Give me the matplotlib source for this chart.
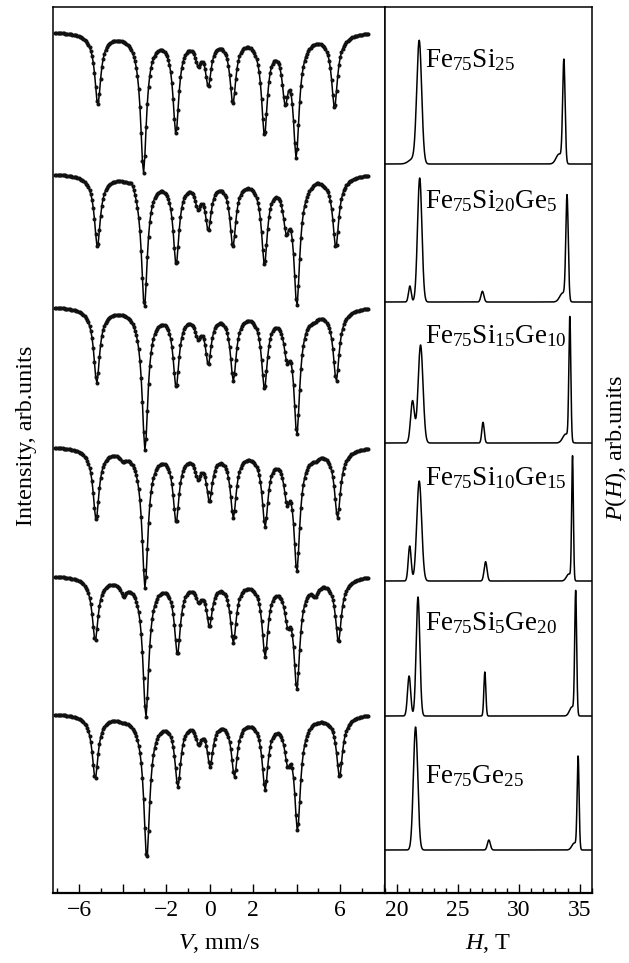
#!/usr/bin/env python3
""" Mossbauer spectra of Fe75Si(25-x)Gex and hyperfine field distributions. """

import numpy as np
import matplotlib.pyplot as plt

plt.rcParams['font.family'] = ['Liberation Serif', 'DejaVu Serif']
plt.rcParams['mathtext.fontset'] = 'custom'
plt.rcParams['mathtext.rm'] = 'Liberation Serif'
plt.rcParams['mathtext.it'] = 'Liberation Serif:italic'

labels = ["Fe$_{75}$Si$_{25}$", "Fe$_{75}$Si$_{20}$Ge$_{5}$",
          "Fe$_{75}$Si$_{15}$Ge$_{10}$", "Fe$_{75}$Si$_{10}$Ge$_{15}$",
          "Fe$_{75}$Si$_{5}$Ge$_{20}$", "Fe$_{75}$Ge$_{25}$"]

# spectra: dip positions (mm/s) and dip depths (arb. units)
dip_v = [
    [-5.14, -3.04, -1.55, -0.53, -0.06, 1.07, 2.52, 3.47, 3.98, 5.74],
    [-5.16, -3.58, -3.00, -1.54, -0.54, -0.06, 1.07, 2.52, 3.52, 4.01, 4.93, 5.80],
    [-5.19, -3.75, -2.97, -1.54, -0.54, -0.06, 1.09, 2.52, 3.55, 4.01, 4.80, 5.82],
    [-5.22, -3.98, -2.97, -1.54, -0.54, -0.01, 1.09, 2.55, 3.55, 4.01, 4.85, 5.88],
    [-5.26, -3.96, -2.93, -1.48, -0.51, -0.01, 1.09, 2.55, 3.58, 4.01, 4.85, 5.92],
    [-5.26, -4.04, -2.89, -1.46, -0.51, 0.02, 1.14, 2.55, 3.58, 4.04, 4.76, 5.97],
]
dip_depth = [
    [0.74, 1.42, 1.03, 0.36, 0.56, 0.73, 1.05, 0.75, 1.27, 0.77],
    [0.74, 0.11, 1.35, 0.92, 0.37, 0.58, 0.74, 0.92, 0.62, 1.33, 0.10, 0.75],
    [0.77, 0.12, 1.44, 0.82, 0.34, 0.59, 0.75, 0.83, 0.57, 1.29, 0.17, 0.75],
    [0.74, 0.16, 1.42, 0.77, 0.34, 0.56, 0.72, 0.81, 0.59, 1.26, 0.16, 0.72],
    [0.66, 0.22, 1.42, 0.80, 0.28, 0.52, 0.68, 0.82, 0.53, 1.15, 0.22, 0.67],
    [0.66, 0.10, 1.46, 0.74, 0.32, 0.54, 0.64, 0.77, 0.54, 1.18, 0.12, 0.64],
]

# P(H): peak positions (T), heights and widths
ph_pos = [
    [21.81, 21.3, 33.69, 33.3],
    [21.04, 21.85, 27.0, 33.95, 33.6],
    [21.26, 21.92, 27.05, 34.18, 33.85],
    [21.03, 21.81, 27.26, 34.40, 34.1],
    [20.98, 21.71, 27.20, 34.66, 34.35],
    [21.51, 27.53, 34.86, 34.55],
]
ph_height = [
    [1.22, 0.05, 1.02, 0.10],
    [0.16, 1.24, 0.107, 1.04, 0.09],
    [0.42, 0.98, 0.207, 1.23, 0.09],
    [0.35, 1.00, 0.193, 1.23, 0.07],
    [0.40, 1.19, 0.44, 1.23, 0.09],
    [1.23, 0.10, 0.92, 0.07],
]
ph_sigma = [
    [0.20, 0.35, 0.10, 0.25],
    [0.11, 0.18, 0.12, 0.10, 0.25],
    [0.16, 0.20, 0.10, 0.08, 0.25],
    [0.12, 0.20, 0.12, 0.07, 0.2],
    [0.13, 0.15, 0.08, 0.08, 0.2],
    [0.18, 0.12, 0.08, 0.2],
]

# layout (vertical offsets in axis units)
spec_base = [8.62, 7.20, 5.87, 4.47, 3.18, 1.80]
dist_base = [7.29, 5.91, 4.50, 3.12, 1.77, 0.43]
label_y = [8.26, 6.85, 5.50, 4.08, 2.63, 1.10]


def line_shape(d):
    # narrow + broad lorentzian, peak value 1
    return 0.88 * 0.155**2 / (d**2 + 0.155**2) + 0.12 * 0.5**2 / (d**2 + 0.5**2)


W, H = 629, 963
fig = plt.figure(figsize=(W / 100, H / 100), dpi=100)
ax1 = fig.add_axes([53 / W, 70 / H, 332 / W, 886 / H])
ax2 = fig.add_axes([385 / W, 70 / H, 207 / W, 886 / H])

v = np.linspace(-7.1, 7.3, 256)
for i in range(6):
    pos = np.array(dip_v[i])
    dep = np.array(dip_depth[i])
    A = line_shape(pos[:, None] - pos[None, :])
    amp = np.linalg.solve(A, dep)
    y = spec_base[i] - (amp[None, :] * line_shape(v[:, None] - pos[None, :])).sum(axis=1)
    ax1.plot(v, y, color="black", lw=1.1)
    ax1.plot(v, y, "o", color="#111111", ms=2.9, mew=0)

h = np.linspace(19, 36, 1500)
for i in range(6):
    p = np.zeros_like(h)
    for c, a, s in zip(ph_pos[i], ph_height[i], ph_sigma[i]):
        p += a * np.exp(-(h - c)**2 / (2 * s**2))
    ax2.plot(h, dist_base[i] + p, color="black", lw=1.1)
    ax2.text(22.27, label_y[i], labels[i], fontsize=19.5, ha="left", va="baseline")

ax1.set(xlim=(-7.2, 8.06), ylim=(0, 8.86))
ax2.set(xlim=(19, 36), ylim=(0, 8.86))

ax1.set_xticks([-6, -4, -2, 0, 2, 4, 6, 8])
ax1.set_xticklabels(["\u22126", "", "\u22122", "0", "2", "", "6", ""])
ax1.set_xticks(np.arange(-7, 9, 1), minor=True)
ax2.set_xticks([20, 25, 30, 35])
ax2.set_xticks(np.arange(19, 37, 1), minor=True)

for ax in (ax1, ax2):
    ax.set_yticks([])
    ax.tick_params(axis="x", which="major", direction="in", length=6.5, width=1,
                   labelsize=17, pad=5)
    ax.tick_params(axis="x", which="minor", direction="in", length=3.5, width=1)
    for sp in ax.spines.values():
        sp.set_linewidth(1.1)
    ax.spines["bottom"].set_linewidth(1.6)

ax1.set_xlabel("$V$, mm/s", fontsize=17.5, labelpad=8)
ax2.set_xlabel("$H$, T", fontsize=17.5, labelpad=8)
fig.text(27 / W, 1 - 436 / H, "Intensity, arb.units", rotation=90, fontsize=17.5,
         ha="center", va="center")
fig.text(616 / W, 1 - 448 / H, "$P$($H$), arb.units", rotation=90, fontsize=17.5,
         ha="center", va="center")

fig.savefig("out.png", dpi=100)
